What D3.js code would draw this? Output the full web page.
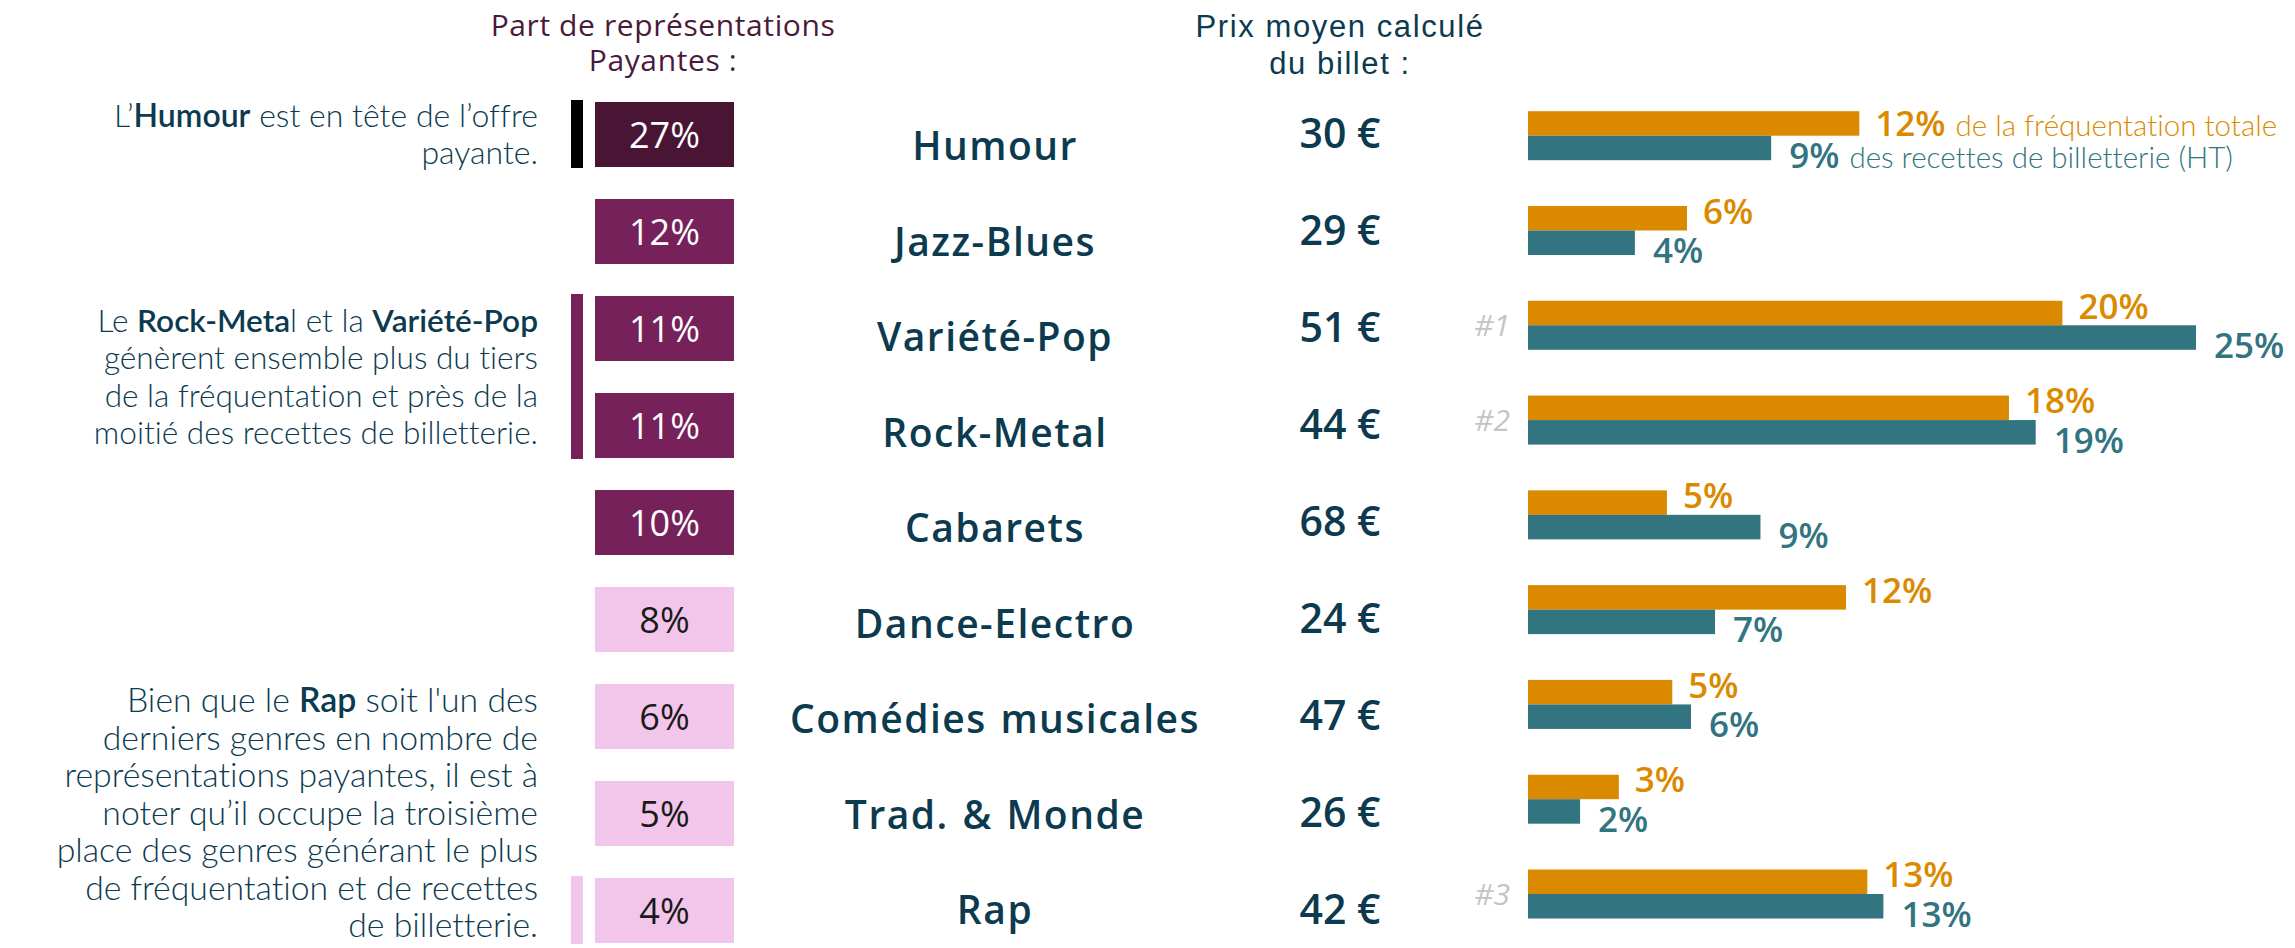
<!DOCTYPE html>
<html><head><meta charset="utf-8">
<script src="https://cdn.jsdelivr.net/npm/d3@7"></script>
<style>html,body{margin:0;padding:0;background:#fff;} svg{display:block} text{font-variant-ligatures:none;font-feature-settings:"liga" 0;}</style>
</head><body>
<svg id="chart" width="2295" height="948"></svg>
<script>
// ---------------- data ----------------
const genres = ["Humour","Jazz-Blues","Variété-Pop","Rock-Metal","Cabarets","Dance-Electro","Comédies musicales","Trad. & Monde","Rap"];
const partRepresentations = [27,12,11,11,10,8,6,5,4];          // % des représentations payantes
const prixMoyen = [30,29,51,44,68,24,47,26,42];                 // € par billet
const partFrequentation = [12.4,5.95,20.0,18.0,5.2,11.9,5.4,3.4,12.7]; // % fréquentation totale
const partRecettes = [9.1,4.0,25.0,19.0,8.7,7.0,6.1,1.95,13.3];        // % recettes billetterie HT
const rangs = ["","","#1","#2","","","","","#3"];
const niveaux = ["haut","moyen","moyen","moyen","moyen","bas","bas","bas","bas"];
const titreRepresentations = ["Part de représentations","Payantes :"];
const titrePrix = ["Prix moyen calculé","du billet :"];
const legende = ["de la fréquentation totale","des recettes de billetterie (HT)"];
const annotationLignes = [
  [[["L’",0],["Humour",1],[" est en tête de l’offre",0]],[["payante.",0]]],
  [[["Le ",0],["Rock-Meta",1],["l et la ",0],["Variété-Pop",1]],
   [["génèrent ensemble plus du tiers",0]],
   [["de la fréquentation et près de la",0]],
   [["moitié des recettes de billetterie.",0]]],
  [[["Bien que le ",0],["Rap",1],[" soit l'un des",0]],
   [["derniers genres en nombre de",0]],
   [["représentations payantes, il est à",0]],
   [["noter qu’il occupe la troisième",0]],
   [["place des genres générant le plus",0]],
   [["de fréquentation et de recettes",0]],
   [["de billetterie.",0]]]
];
const annotationCentre = [0, 2.5, 7];           // rang (index) au centre du bloc de texte
const annotationBarres = [[0,0],[2,3],[8,8]];   // rangs couverts par la barre verticale

// ---------------- styles ----------------
const boxFill = {haut:"#4a1535", moyen:"#76215a", bas:"#f2c6ea"};
const boxText = {haut:"#ffffff", moyen:"#ffffff", bas:"#1a1a1a"};
const barFill = {haut:"#000000", moyen:"#76215a", bas:"#f2c6ea"};
const cOrange = "#db8a00", cTeal = "#327580", cNavy = "#0c3a4f", cPlum = "#4a1a3a";
const fSans = "'Open Sans', 'Noto Sans', sans-serif";
const fLight = "Lato, 'Open Sans', sans-serif";
const annSize = [32, 31.6, 33.8];

const svg = d3.select("#chart");
const idx = d3.range(genres.length);

// scales
const yBox = d3.scaleLinear().domain([0, 8]).range([134.5, 910.5]);
const yLab = d3.scaleLinear().domain([0, 8]).range([146, 910]);
const yBar = d3.scaleLinear().domain([0, 8]).range([135.7, 894]);
const x = d3.scaleLinear().domain([0, 25]).range([1528, 2196]);
const boxH = 65, boxX = 595, boxW = 139, barH = 24.5;

// ---------------- titles ----------------
svg.append("g").selectAll("text").data(titreRepresentations).join("text")
  .attr("x", 663).attr("y", (d,i) => 36 + i*35)
  .attr("text-anchor","middle").attr("fill", cPlum)
  .style("font-family", fSans).style("font-weight","500").style("font-size","30px").style("letter-spacing","0.6px")
  .text(d => d);
svg.append("g").selectAll("text").data(titrePrix).join("text")
  .attr("x", 1340).attr("y", (d,i) => 37 + i*37)
  .attr("text-anchor","middle").attr("fill", cNavy)
  .style("font-family","'Liberation Sans', Arial, sans-serif").style("font-size","31px")
  .style("letter-spacing","1.6px")
  .text(d => d);

// ---------------- boxes ----------------
const gBox = svg.append("g");
gBox.selectAll("rect").data(idx).join("rect")
  .attr("x", boxX).attr("width", boxW)
  .attr("y", i => yBox(i) - boxH/2).attr("height", boxH)
  .attr("fill", i => boxFill[niveaux[i]]);
gBox.selectAll("text").data(idx).join("text")
  .attr("x", boxX + boxW/2).attr("y", i => yBox(i) + 13)
  .attr("text-anchor","middle").attr("fill", i => boxText[niveaux[i]])
  .style("font-family", fSans).style("font-size","36px")
  .text(i => partRepresentations[i] + "%");

// ---------------- category labels ----------------
svg.append("g").selectAll("text").data(idx).join("text")
  .attr("x", 995).attr("y", i => yLab(i) + 14)
  .attr("text-anchor","middle").attr("fill", cNavy)
  .style("font-family", fSans).style("font-weight","600").style("font-size","39px")
  .style("letter-spacing","1.5px").style("word-spacing","2px")
  .text(i => genres[i]);

// ---------------- prices ----------------
svg.append("g").selectAll("text").data(idx).join("text")
  .attr("x", 1340).attr("y", i => yBox(i) + 13.5)
  .attr("text-anchor","middle").attr("fill", cNavy)
  .style("font-family", fSans).style("font-weight","600").style("font-size","41px")
  .text(i => prixMoyen[i] + " €");

// ---------------- rank markers ----------------
svg.append("g").selectAll("text").data(idx.filter(i => rangs[i])).join("text")
  .attr("x", 1510).attr("y", i => yBar(i) + 11)
  .attr("text-anchor","end").attr("fill", "#c4c4c4")
  .style("font-family", fSans).style("font-style","italic").style("font-size","30px")
  .text(i => rangs[i]);

// ---------------- bars ----------------
const gBars = svg.append("g");
gBars.selectAll("rect.o").data(idx).join("rect").attr("class","o")
  .attr("x", x(0)).attr("y", i => yBar(i) - barH)
  .attr("width", i => x(partFrequentation[i]) - x(0)).attr("height", barH)
  .attr("fill", cOrange);
gBars.selectAll("rect.t").data(idx).join("rect").attr("class","t")
  .attr("x", x(0)).attr("y", i => yBar(i))
  .attr("width", i => x(partRecettes[i]) - x(0)).attr("height", barH)
  .attr("fill", cTeal);

const lo = gBars.selectAll("text.o").data(idx).join("text").attr("class","o")
  .attr("x", i => x(partFrequentation[i]) + 16)
  .attr("y", i => yBar(i) - barH/2 - (i === 0 ? 0 : 7) + 12.5)
  .attr("fill", cOrange)
  .style("font-family", fSans).style("font-weight","600").style("font-size","35px");
lo.append("tspan").text(i => Math.round(partFrequentation[i]) + "%");
lo.filter(i => i === 0).append("tspan").attr("dx", 10)
  .style("font-family", fLight).style("font-weight","300").style("font-size","29.5px")
  .text(legende[0]);

const lt = gBars.selectAll("text.t").data(idx).join("text").attr("class","t")
  .attr("x", i => x(partRecettes[i]) + 18)
  .attr("y", i => yBar(i) + barH/2 + 8 + 12.5)
  .attr("fill", cTeal)
  .style("font-family", fSans).style("font-weight","600").style("font-size","35px");
lt.append("tspan").text(i => Math.round(partRecettes[i]) + "%");
lt.filter(i => i === 0).append("tspan").attr("dx", 10)
  .style("font-family", fLight).style("font-weight","300").style("font-size","29.5px")
  .text(legende[1]);

// ---------------- annotations ----------------
const gAnn = svg.append("g");
annotationBarres.forEach(([a,b]) => {
  gAnn.append("rect").attr("x", 571).attr("width", 12)
    .attr("y", yBox(a) - boxH/2 - 2).attr("height", yBox(b) - yBox(a) + boxH + 3)
    .attr("fill", barFill[niveaux[a]]);
});
const lineH = 37.5;
annotationLignes.forEach((lines, k) => {
  const c = yBox(annotationCentre[k]);
  lines.forEach((segs, j) => {
    const t = gAnn.append("text")
      .attr("x", 538).attr("y", c + 11 + (j - (lines.length-1)/2) * lineH)
      .attr("text-anchor","end").attr("fill", cNavy)
      .style("font-family", fLight).style("font-size", annSize[k] + "px");
    segs.forEach(([s,b]) => t.append("tspan").style("font-weight", b ? "600" : "300").text(s));
  });
});
</script>
</body></html>
